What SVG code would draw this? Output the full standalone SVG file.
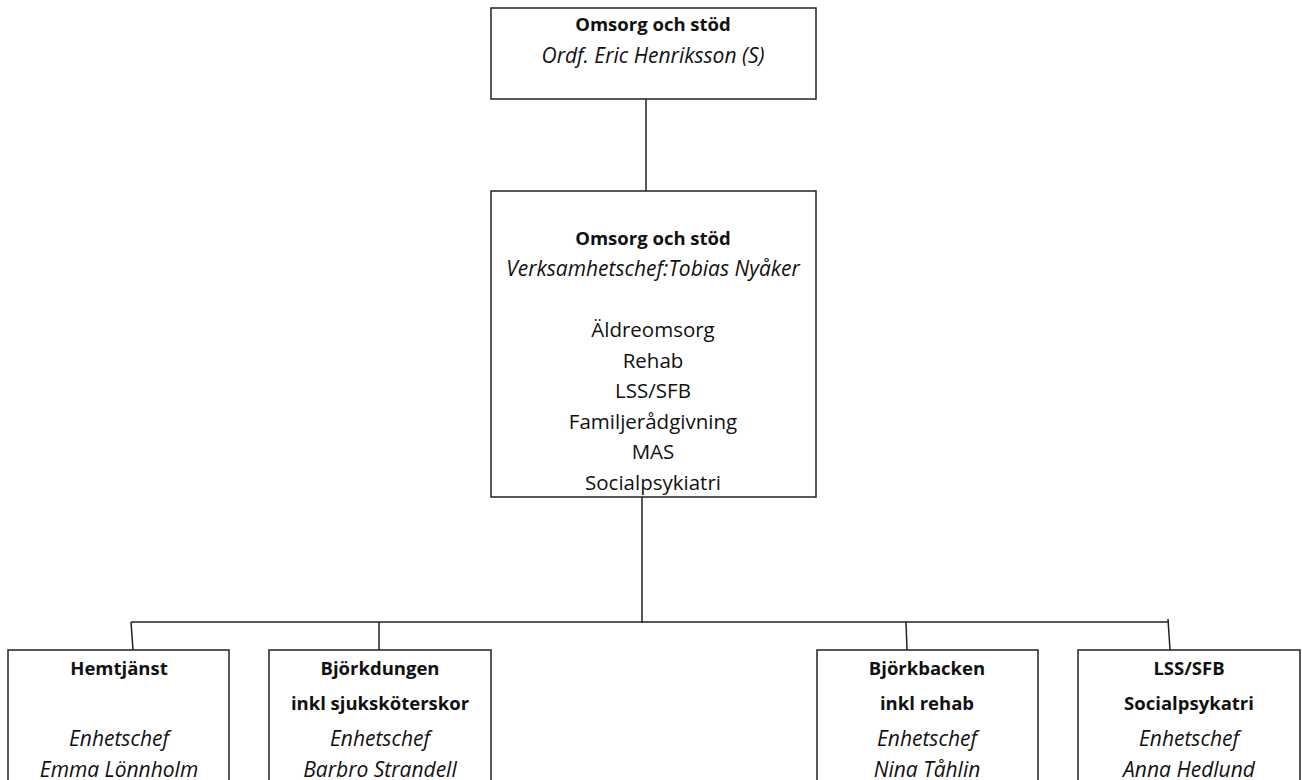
<svg xmlns="http://www.w3.org/2000/svg" width="1302" height="780" viewBox="0 0 1302 780">
<style>
.box{fill:#fff;stroke:#222;stroke-width:1.5}
.t{font-family:"Open Sans","Liberation Sans",Arial,sans-serif;font-size:20.5px;fill:#111;text-anchor:middle}
.b{font-weight:bold;font-size:18.5px}
.i{font-style:italic;font-size:21px}
.c{stroke:#222;stroke-width:1.5;fill:none}
</style>
<rect width="1302" height="780" fill="#fff"/>
<g id="connectors">
<line class="c" x1="646" y1="99" x2="646" y2="191"/>
<line class="c" x1="642" y1="497" x2="642" y2="623"/>
<line class="c" x1="131" y1="622" x2="1169" y2="622"/>
<line class="c" x1="131" y1="622" x2="133" y2="650"/>
<line class="c" x1="379" y1="622" x2="379" y2="650"/>
<line class="c" x1="906" y1="622" x2="907" y2="650"/>
<line class="c" x1="1168" y1="619" x2="1170" y2="650"/>
</g>
<g id="n1">
<rect class="box" x="491" y="8" width="325" height="91"/>
<text class="t b" x="653" y="31">Omsorg och stöd</text>
<text class="t i" x="653" y="63">Ordf. Eric Henriksson (S)</text>
</g>
<g id="n2">
<rect class="box" x="491" y="191" width="325" height="306"/>
<text class="t b" x="653" y="245">Omsorg och stöd</text>
<text class="t i" x="653" y="276">Verksamhetschef:Tobias Nyåker</text>
<text class="t" x="653" y="337">Äldreomsorg</text>
<text class="t" x="653" y="368">Rehab</text>
<text class="t" x="653" y="398">LSS/SFB</text>
<text class="t" x="653" y="429">Familjerådgivning</text>
<text class="t" x="653" y="459">MAS</text>
<text class="t" x="653" y="490">Socialpsykiatri</text>
</g>
<g id="n3">
<rect class="box" x="8" y="650" width="221" height="140"/>
<text class="t b" x="119" y="675">Hemtjänst</text>
<text class="t i" x="119" y="746">Enhetschef</text>
<text class="t i" x="119" y="777">Emma Lönnholm</text>
</g>
<g id="n4">
<rect class="box" x="269" y="650" width="222" height="140"/>
<text class="t b" x="380" y="675">Björkdungen</text>
<text class="t b" x="380" y="710">inkl sjuksköterskor</text>
<text class="t i" x="380" y="746">Enhetschef</text>
<text class="t i" x="380" y="777">Barbro Strandell</text>
</g>
<g id="n5">
<rect class="box" x="817" y="650" width="221" height="140"/>
<text class="t b" x="927" y="675">Björkbacken</text>
<text class="t b" x="927" y="710">inkl rehab</text>
<text class="t i" x="927" y="746">Enhetschef</text>
<text class="t i" x="927" y="777">Nina Tåhlin</text>
</g>
<g id="n6">
<rect class="box" x="1078" y="650" width="222" height="140"/>
<text class="t b" x="1189" y="675">LSS/SFB</text>
<text class="t b" x="1189" y="710">Socialpsykatri</text>
<text class="t i" x="1189" y="746">Enhetschef</text>
<text class="t i" x="1189" y="777">Anna Hedlund</text>
</g>
</svg>
